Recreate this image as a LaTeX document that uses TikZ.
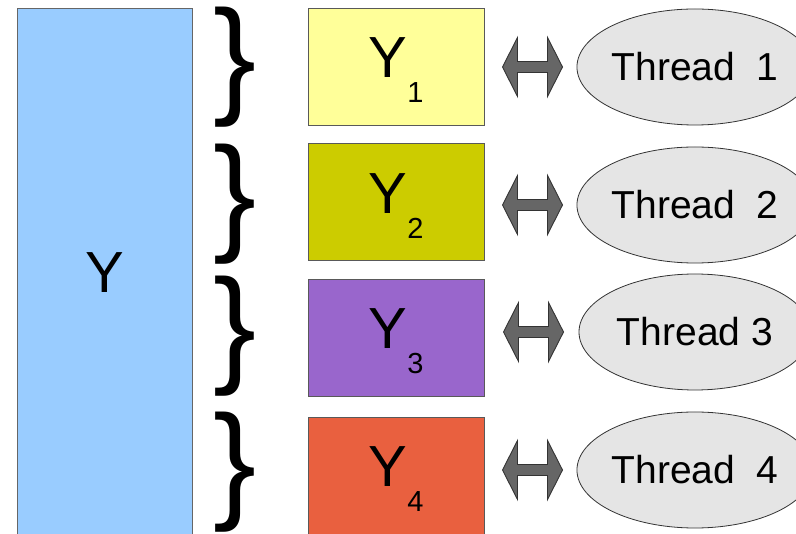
\documentclass[tikz,border=0pt]{standalone}
\usepackage{fontspec}
\setmainfont{Liberation Sans}
\usepackage{xcolor}
\usetikzlibrary{shapes.geometric,calc}
\definecolor{whole}{HTML}{99CCFF}
\definecolor{partA}{HTML}{FFFF99}
\definecolor{partB}{HTML}{CCCC00}
\definecolor{partC}{HTML}{9966CC}
\definecolor{partD}{HTML}{E9603F}
\newcommand{\idx}[1]{\raisebox{-25pt}{\fontsize{29}{29}\selectfont #1}}
\tikzset{
  part/.style={draw=black!65,line width=0.9pt,minimum width=176pt,minimum height=117pt,inner sep=0pt,text height=48pt,text depth=25pt,font=\fontsize{58}{58}\selectfont},
  thread/.style={ellipse,draw=black!80,line width=0.8pt,fill=black!10,minimum width=232pt,minimum height=116pt,inner sep=0pt,font=\fontsize{39}{39}\selectfont},
  brc/.style={inner sep=0pt,font=\fontsize{129}{129}\selectfont},
  link/.style={draw=black!80,fill=black!60,line width=0.9pt},
}

\begin{document}
\begin{tikzpicture}[x=1pt,y=-1pt]
\useasboundingbox (0,0) rectangle (796,534);
\clip (0,0) rectangle (796,534);
\node[draw=black!60,line width=0.9pt,fill=whole,minimum width=175pt,minimum height=529pt,inner sep=0pt,font=\fontsize{58}{58}\selectfont] (y) at (104.5,272.5) {Y};
% the four pieces of Y
\node[part,fill=partA] (b1) at (396,66.5) {Y\idx{1}};
\node[part,fill=partB] (b2) at (396,202) {Y\idx{2}};
\node[part,fill=partC] (b3) at (396,337.5) {Y\idx{3}};
\node[part,fill=partD] (b4) at (396,475.5) {Y\idx{4}};
% braces
\node[brc] (c1) at (235,67.5) {\}};
\node[brc] (c2) at (235,204) {\}};
\node[brc] (c3) at (235,336) {\}};
\node[brc] (c4) at (235,472) {\}};
% threads
\node[thread] (t1) at (695,67) {Thread\ \ 1};
\node[thread] (t2) at (695,205) {Thread\ \ 2};
\node[thread] (t3) at (695,332) {Thread 3};
\node[thread] (t4) at (695,470) {Thread\ \ 4};
% double arrows piece <-> thread
\foreach \i in {1,...,4}{
  \coordinate (m\i) at ($(b\i.east |- t\i.west)!0.5!(t\i.west)+(2,0)$);
  \draw[link,shift={(m\i)}] (-30,0) -- (-15,-29.5) -- (-15,-5.5) -- (15,-5.5) -- (15,-29.5)
    -- (30,0) -- (15,29.5) -- (15,5.5) -- (-15,5.5) -- (-15,29.5) -- cycle;
}
\end{tikzpicture}
\end{document}
